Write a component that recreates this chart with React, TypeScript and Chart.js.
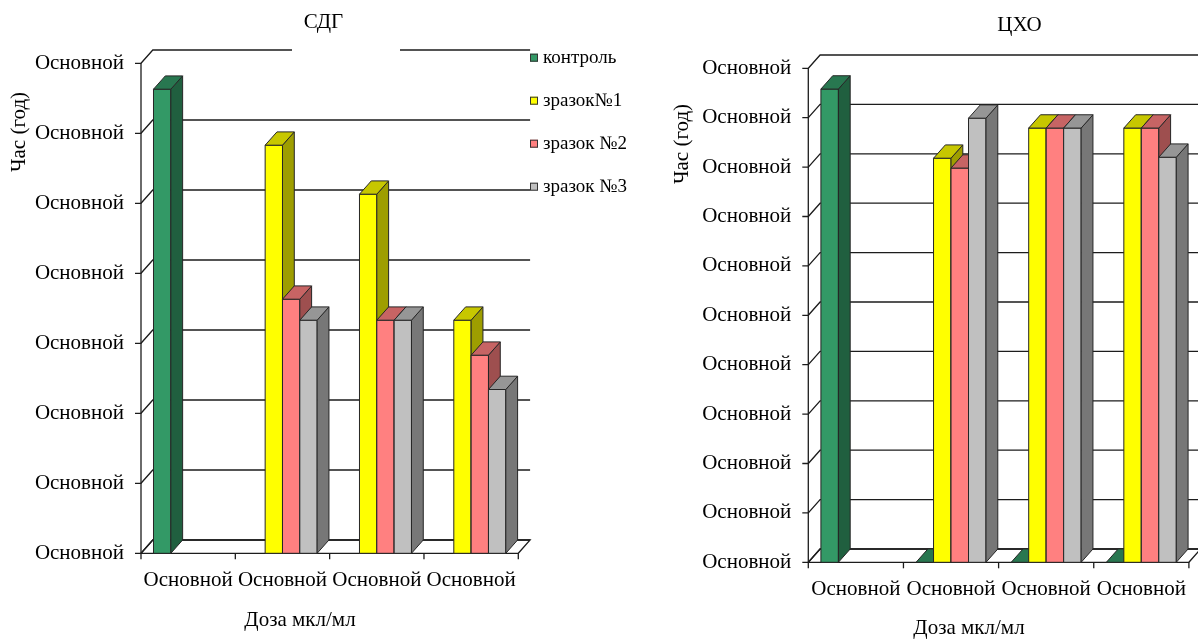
import React, { useEffect, useRef } from "react";
import { Chart, registerables } from "chart.js";

Chart.register(...registerables);

// Shared categories and series
const categories = ["Основной", "Основной", "Основной", "Основной"];
const seriesNames = ["контроль", "зразок№1", "зразок №2", "зразок №3"];
const seriesColors = ["#339966", "#FFFF00", "#FF8080", "#C0C0C0"];

// СДГ panel
const sdgTickLabels = ["Основной", "Основной", "Основной", "Основной", "Основной", "Основной", "Основной", "Основной"];
const sdgControl = [6.63, null, null, null];
const sdgSample1 = [null, 5.83, 5.13, 3.33];
const sdgSample2 = [null, 3.63, 3.33, 2.83];
const sdgSample3 = [null, 3.33, 3.33, 2.34];

// ЦХО panel
const choTickLabels = ["Основной", "Основной", "Основной", "Основной", "Основной", "Основной", "Основной", "Основной", "Основной", "Основной", "Основной"];
const choControl = [9.58, 0, 0, 0];
const choSample1 = [null, 8.18, 8.79, 8.79];
const choSample2 = [null, 7.98, 8.79, 8.79];
const choSample3 = [null, 8.99, 8.79, 8.2];

const yAxisTitle = "Час (год)";
const xAxisTitle = "Доза мкл/мл";

const FONT = '"Liberation Serif", "Times New Roman", serif';
const INK = "#1c1c1c";

Chart.defaults.font.family = FONT;
Chart.defaults.color = "#000";

function shade(hex: string, f: number): string {
  const n = parseInt(hex.slice(1), 16);
  const r = Math.round(((n >> 16) & 255) * f);
  const g = Math.round(((n >> 8) & 255) * f);
  const b = Math.round((n & 255) * f);
  return `rgb(${r},${g},${b})`;
}

// Draws walls, floor and extruded columns from the bar elements' geometry
const box3d = {
  id: "box3d",
  beforeDatasetsDraw(chart: any, _args: any, opts: any) {
    const { ctx, chartArea } = chart;
    const { left, right, top, bottom } = chartArea;
    const xs = chart.scales.x;
    const ys = chart.scales.y;
    const dx = opts.depthX;
    const dy = opts.depthY;

    ctx.save();
    ctx.lineWidth = 1.3;
    ctx.strokeStyle = INK;
    ctx.lineJoin = "miter";

    // floor
    ctx.beginPath();
    ctx.moveTo(left, bottom);
    ctx.lineTo(right, bottom);
    ctx.lineTo(right + dx, bottom - dy);
    ctx.lineTo(left + dx, bottom - dy);
    ctx.closePath();
    ctx.fillStyle = "#fff";
    ctx.fill();
    ctx.stroke();

    // tick marks, side-wall diagonals and back-wall gridlines
    ys.ticks.forEach((t: any) => {
      const py = ys.getPixelForValue(t.value);
      ctx.beginPath();
      ctx.moveTo(left - 6, py);
      ctx.lineTo(left, py);
      ctx.lineTo(left + dx, py - dy);
      ctx.lineTo(right + dx, py - dy);
      ctx.stroke();
    });

    // front value axis
    ctx.beginPath();
    ctx.moveTo(left, top);
    ctx.lineTo(left, bottom);
    ctx.stroke();

    // category boundary ticks
    const n = chart.data.labels.length;
    const step = (xs.right - xs.left) / n;
    for (let i = 0; i <= n; i++) {
      const px = xs.left + i * step;
      ctx.beginPath();
      ctx.moveTo(px, bottom);
      ctx.lineTo(px, bottom + 6);
      ctx.stroke();
    }

    // title background box over the top gridline
    if (opts.titleBox) {
      ctx.fillStyle = "#fff";
      ctx.fillRect(opts.titleBox[0], top - dy - 5, opts.titleBox[1] - opts.titleBox[0], 10);
    }

    // columns, left to right so each front face covers the previous side face
    ctx.lineWidth = 1;
    ctx.strokeStyle = "#262626";
    const nSets = chart.data.datasets.length;
    for (let i = 0; i < n; i++) {
      for (let d = 0; d < nSets; d++) {
        const ds = chart.data.datasets[d];
        const v = ds.data[i];
        if (v === null || v === undefined || !Number.isFinite(v)) continue;
        const el = chart.getDatasetMeta(d).data[i];
        const p = el.getProps(["x", "y", "base", "width"], true);
        const x0 = p.x - p.width / 2;
        const x1 = p.x + p.width / 2;
        const yt = p.y;
        const yb = p.base;
        const c = ds.backgroundColor;

        if (yb - yt > 0.5) {
          ctx.fillStyle = c;
          ctx.beginPath();
          ctx.rect(x0, yt, x1 - x0, yb - yt);
          ctx.fill();
          ctx.stroke();

          ctx.fillStyle = shade(c, 0.62);
          ctx.beginPath();
          ctx.moveTo(x1, yt);
          ctx.lineTo(x1 + dx, yt - dy);
          ctx.lineTo(x1 + dx, yb - dy);
          ctx.lineTo(x1, yb);
          ctx.closePath();
          ctx.fill();
          ctx.stroke();
        }

        ctx.fillStyle = shade(c, 0.78);
        ctx.beginPath();
        ctx.moveTo(x0, yt);
        ctx.lineTo(x1, yt);
        ctx.lineTo(x1 + dx, yt - dy);
        ctx.lineTo(x0 + dx, yt - dy);
        ctx.closePath();
        ctx.fill();
        ctx.stroke();
      }
    }
    ctx.restore();
    return false;
  },
  afterDraw(chart: any, _args: any, opts: any) {
    const { ctx } = chart;
    ctx.save();
    ctx.fillStyle = "#000";
    ctx.font = `21px ${FONT}`;
    ctx.textAlign = "center";
    ctx.textBaseline = "middle";

    // chart title
    ctx.fillText(opts.title.text, opts.title.x, opts.title.y);

    // value axis title
    ctx.save();
    ctx.translate(opts.yTitle.x, opts.yTitle.y);
    ctx.rotate(-Math.PI / 2);
    ctx.fillText(yAxisTitle, 0, 0);
    ctx.restore();

    // category axis title
    ctx.fillText(xAxisTitle, opts.xTitle.x, opts.xTitle.y);

    // legend
    if (opts.legend) {
      ctx.font = `19px ${FONT}`;
      ctx.textAlign = "left";
      chart.data.datasets.forEach((ds: any, k: number) => {
        const cy = opts.legend.y + k * opts.legend.step;
        ctx.fillStyle = ds.backgroundColor;
        ctx.fillRect(opts.legend.x, cy - 4, 8, 8);
        ctx.strokeStyle = "#333";
        ctx.lineWidth = 1;
        ctx.strokeRect(opts.legend.x + 0.5, cy - 3.5, 7, 7);
        ctx.fillStyle = "#000";
        ctx.fillText(ds.label, opts.legend.x + 13, cy);
      });
    }
    ctx.restore();
  },
};

function makeConfig(p: any): any {
  const series = [p.control, p.s1, p.s2, p.s3];
  return {
    type: "bar",
    data: {
      labels: categories,
      datasets: series.map((data, k) => ({
        label: seriesNames[k],
        data,
        backgroundColor: seriesColors[k],
        borderWidth: 0,
        barPercentage: 1,
        categoryPercentage: 0.735,
      })),
    },
    plugins: [box3d],
    options: {
      responsive: false,
      animation: false,
      layout: { padding: { left: 0, right: p.padRight, top: p.padTop, bottom: 0 } },
      scales: {
        x: {
          type: "category",
          grid: { display: false, drawTicks: false },
          border: { display: false },
          ticks: { autoSkip: false, maxRotation: 0, minRotation: 0, padding: 14.1, font: { size: 21 }, color: "#000" },
          afterFit: (s: any) => {
            s.height = p.xAxisHeight;
          },
        },
        y: {
          type: "linear",
          min: 0,
          max: p.ticks.length - 1,
          grid: { display: false, drawTicks: false },
          border: { display: false },
          ticks: {
            stepSize: 1,
            padding: 17,
            font: { size: 21 },
            color: "#000",
            callback: (_v: any, i: number) => p.ticks[i],
          },
          afterFit: (s: any) => {
            s.width = p.yAxisWidth;
          },
        },
      },
      plugins: {
        legend: { display: false },
        tooltip: { enabled: false },
        title: { display: false },
        box3d: {
          depthX: 11.8,
          depthY: 13.3,
          title: p.title,
          titleBox: p.titleBox,
          yTitle: p.yTitle,
          xTitle: p.xTitle,
          legend: p.legend,
        },
      },
    },
  };
}

export default function App() {
  const leftRef = useRef<HTMLCanvasElement>(null);
  const rightRef = useRef<HTMLCanvasElement>(null);

  useEffect(() => {
    const sdg = new Chart(
      leftRef.current as HTMLCanvasElement,
      makeConfig({
        title: { text: "СДГ", x: 323.5, y: 22 },
        ticks: sdgTickLabels,
        control: sdgControl,
        s1: sdgSample1,
        s2: sdgSample2,
        s3: sdgSample3,
        padRight: 127.7,
        padTop: 63.3,
        yAxisWidth: 141,
        xAxisHeight: 85.7,
        titleBox: [292, 400],
        yTitle: { x: 19, y: 132 },
        xTitle: { x: 300, y: 620 },
        legend: { x: 530, y: 57.7, step: 43 },
      })
    );
    const cho = new Chart(
      rightRef.current as HTMLCanvasElement,
      makeConfig({
        title: { text: "ЦХО", x: 373.5, y: 25 },
        ticks: choTickLabels,
        control: choControl,
        s1: choSample1,
        s2: choSample2,
        s3: choSample3,
        padRight: 204.1,
        padTop: 68.3,
        yAxisWidth: 162.3,
        xAxisHeight: 76.7,
        titleBox: null,
        yTitle: { x: 36, y: 144 },
        xTitle: { x: 323, y: 628 },
        legend: null,
      })
    );
    return () => {
      sdg.destroy();
      cho.destroy();
    };
  }, []);

  return (
    <div style={{ position: "fixed", left: 0, top: 0, width: 1198, height: 639, overflow: "hidden", background: "#fff" }}>
      <canvas ref={leftRef} width={646} height={639} style={{ position: "absolute", left: 0, top: 0 }} />
      <canvas ref={rightRef} width={747} height={639} style={{ position: "absolute", left: 646, top: 0 }} />
    </div>
  );
}
